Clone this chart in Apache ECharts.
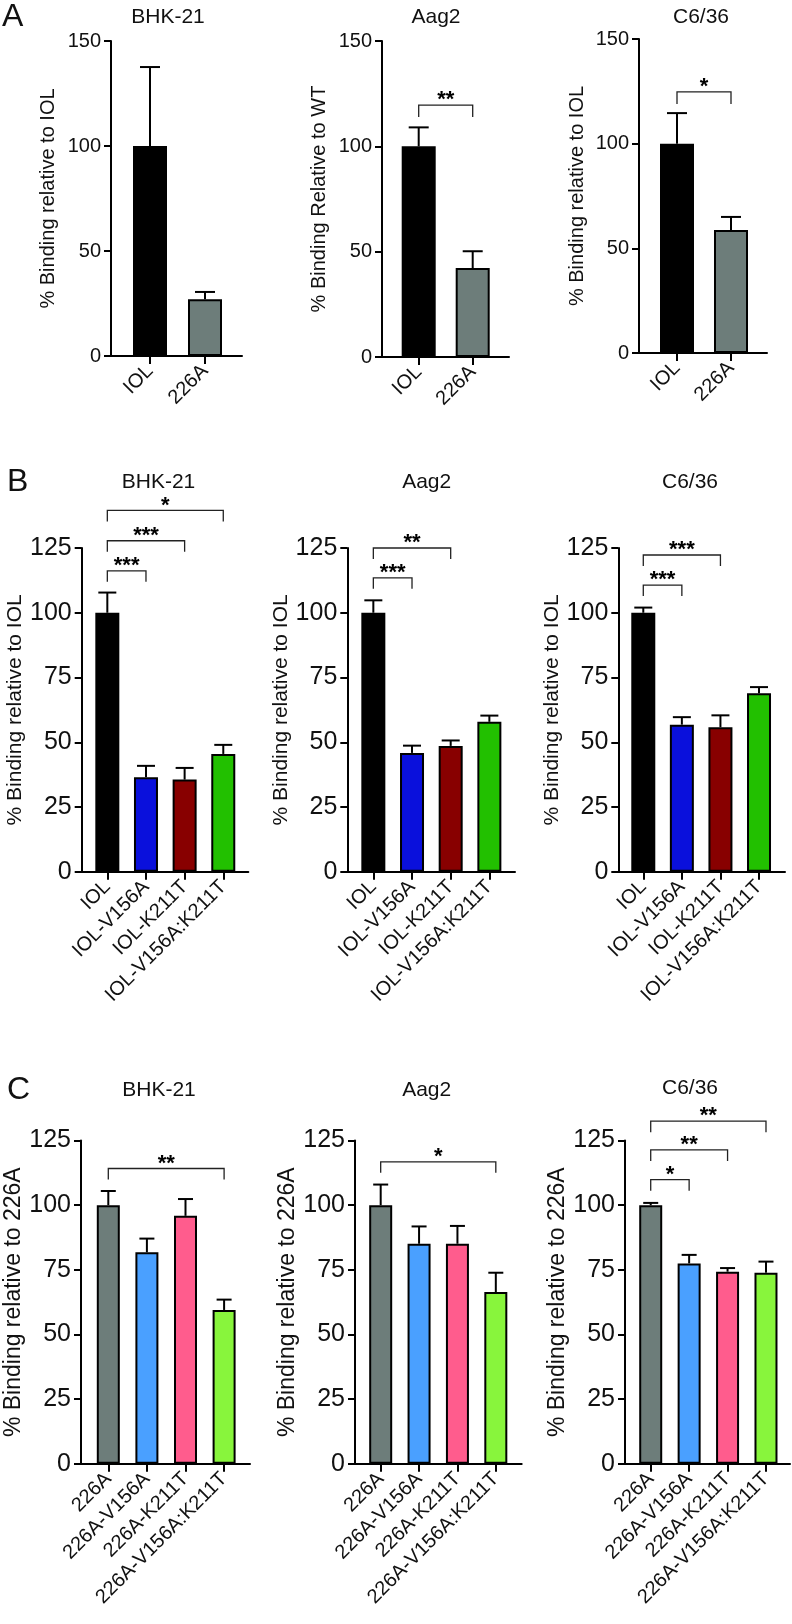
<!DOCTYPE html>
<html>
<head>
<meta charset="utf-8">
<title>Binding</title>
<script src="https://cdn.jsdelivr.net/npm/echarts@6/dist/echarts.min.js"></script>
<style>
html, body { margin: 0; padding: 0; background: #fff; }
#main { width: 792px; height: 1624px; }
</style>
</head>
<body>
<div id="main"></div>
<script>
// categories
var catsA = ['IOL', '226A'];
var catsB = ['IOL', 'IOL-V156A', 'IOL-K211T', 'IOL-V156A:K211T'];
var catsC = ['226A', '226A-V156A', '226A-K211T', '226A-V156A:K211T'];

// y ticks
var ticksA = [0, 50, 100, 150];
var ticksBC = [0, 25, 50, 75, 100, 125];

// mean and error (SEM) per cell line
var meanA_BHK = [100, 27];        var errA_BHK = [37.6, 3.5];
var meanA_Aag = [100, 42.2];      var errA_Aag = [9, 8];
var meanA_C6 = [100, 58.8];       var errA_C6 = [14.6, 6.2];

var meanB_BHK = [100, 36.5, 35.6, 45.5];  var errB_BHK = [7.8, 4.4, 4.5, 3.5];
var meanB_Aag = [100, 45.9, 48.6, 57.9];  var errB_Aag = [4.8, 2.8, 2.1, 2.4];
var meanB_C6 = [100, 56.8, 55.8, 68.9];   var errB_C6 = [2.0, 2.9, 4.6, 2.4];

var meanC_BHK = [100, 81.8, 95.9, 59.5];  var errC_BHK = [5.5, 5.3, 6.5, 4.0];
var meanC_Aag = [100, 85.1, 85.1, 66.4];  var errC_Aag = [8.0, 6.7, 6.9, 7.5];
var meanC_C6 = [100, 77.5, 74.3, 73.9];   var errC_C6 = [0.9, 3.3, 1.4, 4.3];

// significance brackets: [from, to, level, stars]
var sigA_BHK = [];
var sigA_Aag = [[0, 1, 119.6, '**']];
var sigA_C6 = [[0, 1, 124.7, '*']];
var sigB_BHK = [[0, 1, 116.2, '***'], [0, 2, 127.8, '***'], [0, 3, 139.5, '*']];
var sigB_Aag = [[0, 1, 113.5, '***'], [0, 2, 125, '**']];
var sigB_C6 = [[0, 1, 110.7, '***'], [0, 2, 122.3, '***']];
var sigC_BHK = [[0, 3, 114.2, '**']];
var sigC_Aag = [[0, 3, 116.8, '*']];
var sigC_C6 = [[0, 1, 109.9, '*'], [0, 2, 121.4, '**'], [0, 3, 132.5, '**']];

var colorsA = ['#000000', '#6d7d7a'];
var colorsB = ['#000000', '#0a10dc', '#880000', '#22c000'];
var colorsC = ['#6d7d7a', '#4aa0ff', '#ff5c8d', '#88f53c'];

var FONT = 'Liberation Sans, Arial, Helvetica, sans-serif';

// layout: frame = [left, top, right, bottom], inner = [left, right] for the bars
var panels = [
    { title: 'BHK-21', cats: catsA, mean: meanA_BHK, err: errA_BHK, sig: sigA_BHK, ticks: ticksA, colors: colorsA,
      yName: '% Binding relative to IOL', frame: [111, 41, 242, 356], inner: [122.5, 232.5], gap: 53, nameFs: 20,
      tpos: [168, 17.5], barW: 34, cap: 20, drop: 12, tick: 20 },
    { title: 'Aag2', cats: catsA, mean: meanA_Aag, err: errA_Aag, sig: sigA_Aag, ticks: ticksA, colors: colorsA,
      yName: '% Binding Relative to WT', frame: [382, 41, 509, 357], inner: [391.7, 499.7], gap: 53, nameFs: 20,
      tpos: [436, 17.5], barW: 34, cap: 20, drop: 12, tick: 20 },
    { title: 'C6/36', cats: catsA, mean: meanA_C6, err: errA_C6, sig: sigA_C6, ticks: ticksA, colors: colorsA,
      yName: '% Binding relative to IOL', frame: [639, 39, 767, 353], inner: [650, 758], gap: 52, nameFs: 20,
      tpos: [701, 17.5], barW: 34, cap: 20, drop: 12, tick: 20 },
    { title: 'BHK-21', cats: catsB, mean: meanB_BHK, err: errB_BHK, sig: sigB_BHK, ticks: ticksBC, colors: colorsB,
      yName: '% Binding relative to IOL', frame: [81.7, 548, 248.3, 871.8], inner: [88, 242.6], gap: 50, nameFs: 21,
      tpos: [158.5, 482.5], barW: 24, cap: 18, drop: 11, tick: 25 },
    { title: 'Aag2', cats: catsB, mean: meanB_Aag, err: errB_Aag, sig: sigB_Aag, ticks: ticksBC, colors: colorsB,
      yName: '% Binding relative to IOL', frame: [347.3, 548, 515, 871.8], inner: [354, 508.7], gap: 49, nameFs: 21,
      tpos: [426.7, 482.5], barW: 24, cap: 18, drop: 11, tick: 25 },
    { title: 'C6/36', cats: catsB, mean: meanB_C6, err: errB_C6, sig: sigB_C6, ticks: ticksBC, colors: colorsB,
      yName: '% Binding relative to IOL', frame: [618.3, 548, 785, 871.8], inner: [624, 778.3], gap: 48, nameFs: 21,
      tpos: [690, 482.5], barW: 24, cap: 18, drop: 11, tick: 25 },
    { title: 'BHK-21', cats: catsC, mean: meanC_BHK, err: errC_BHK, sig: sigC_BHK, ticks: ticksBC, colors: colorsC,
      yName: '% Binding relative to 226A', frame: [81, 1140.6, 250, 1463.8], inner: [89, 243.4], gap: 46, nameFs: 23,
      tpos: [159, 1090], barW: 23, cap: 15, drop: 11, tick: 25 },
    { title: 'Aag2', cats: catsC, mean: meanC_Aag, err: errC_Aag, sig: sigC_Aag, ticks: ticksBC, colors: colorsC,
      yName: '% Binding relative to 226A', frame: [355, 1140.6, 521.7, 1463.8], inner: [361.5, 515], gap: 50, nameFs: 23,
      tpos: [426.7, 1090], barW: 23, cap: 15, drop: 11, tick: 25 },
    { title: 'C6/36', cats: catsC, mean: meanC_C6, err: errC_C6, sig: sigC_C6, ticks: ticksBC, colors: colorsC,
      yName: '% Binding relative to 226A', frame: [625, 1140.6, 790, 1463.8], inner: [631.5, 785.2], gap: 50, nameFs: 23,
      tpos: [690, 1088], barW: 23, cap: 15, drop: 11, tick: 25 }
];

function errRender(capW) {
    return function (params, api) {
        var i = api.value(0);
        var base = api.coord([i, api.value(1)]);
        var top = api.coord([i, api.value(1) + api.value(2)]);
        var st = { stroke: '#000', lineWidth: 2 };
        return { type: 'group', children: [
            { type: 'line', shape: { x1: base[0], y1: base[1], x2: top[0], y2: top[1] }, style: st },
            { type: 'line', shape: { x1: top[0] - capW / 2, y1: top[1], x2: top[0] + capW / 2, y2: top[1] }, style: st }
        ] };
    };
}

function sigRender(sig, drop) {
    return function (params, api) {
        var s = sig[params.dataIndex];
        var a = api.coord([s[0], s[2]]);
        var b = api.coord([s[1], s[2]]);
        return { type: 'group', children: [
            { type: 'polyline',
              shape: { points: [[a[0], a[1] + drop], [a[0], a[1]], [b[0], b[1]], [b[0], b[1] + drop]] },
              style: { stroke: '#222', lineWidth: 1.3, fill: null } },
            { type: 'text',
              style: { text: s[3], x: (a[0] + b[0]) / 2, y: a[1] + 6,
                       align: 'center', verticalAlign: 'bottom', textAlign: 'center', textVerticalAlign: 'bottom',
                       font: 'bold 22px ' + FONT, fill: '#000' } }
        ] };
    };
}

var grids = [], xAxes = [], yAxes = [], series = [], graphics = [];

panels.forEach(function (p, k) {
    var f = p.frame;
    var max = p.ticks[p.ticks.length - 1];
    var step = p.ticks[1] - p.ticks[0];
    var g0 = 2 * k, g1 = 2 * k + 1;

    // frame grid: axis lines, y ticks and y name
    grids.push({ left: f[0], top: f[1], width: f[2] - f[0], height: f[3] - f[1] });
    // inner grid: bars, categories
    grids.push({ left: p.inner[0], top: f[1], width: p.inner[1] - p.inner[0], height: f[3] - f[1] });

    xAxes.push({ type: 'value', gridIndex: g0, min: 0, max: 1,
        axisLine: { show: true, lineStyle: { color: '#000', width: 2 } },
        axisTick: { show: false }, axisLabel: { show: false }, splitLine: { show: false } });
    yAxes.push({ type: 'value', gridIndex: g0, min: 0, max: max, interval: step,
        axisLine: { show: true, lineStyle: { color: '#000', width: 2 } },
        axisTick: { show: true, length: 7, lineStyle: { color: '#000', width: 2 } },
        axisLabel: { fontSize: p.tick, color: '#111', margin: 10, fontFamily: FONT },
        splitLine: { show: false },
        name: p.yName, nameLocation: 'middle', nameGap: p.gap,
        nameTextStyle: { fontSize: p.nameFs, color: '#111', fontFamily: FONT } });

    xAxes.push({ type: 'category', gridIndex: g1, data: p.cats,
        axisLine: { show: false },
        axisTick: { show: true, alignWithLabel: true, length: 8, lineStyle: { color: '#000', width: 2 } },
        axisLabel: { rotate: 45, fontSize: 20, color: '#111', margin: 12, fontFamily: FONT, interval: 0 } });
    yAxes.push({ type: 'value', gridIndex: g1, min: 0, max: max, interval: step, show: false });

    series.push({ type: 'bar', xAxisIndex: g1, yAxisIndex: g1, barWidth: p.barW, z: 2,
        data: p.mean.map(function (v, i) {
            return { value: v, itemStyle: { color: p.colors[i], borderColor: '#000', borderWidth: 2 } };
        }) });
    series.push({ type: 'custom', xAxisIndex: g1, yAxisIndex: g1, z: 3, clip: false,
        renderItem: errRender(p.cap),
        encode: { x: 0, y: 1 },
        data: p.mean.map(function (v, i) { return [i, v, p.err[i]]; }) });
    if (p.sig.length) {
        series.push({ type: 'custom', xAxisIndex: g1, yAxisIndex: g1, z: 4, clip: false,
            renderItem: sigRender(p.sig, p.drop),
            encode: { x: 0, y: 1 },
            data: p.sig.map(function (s) { return [s[0], s[2]]; }) });
    }

    graphics.push({ type: 'text', x: p.tpos[0], y: p.tpos[1],
        style: { text: p.title, font: '21px ' + FONT, fill: '#111',
                 align: 'center', verticalAlign: 'middle', textAlign: 'center', textVerticalAlign: 'middle' } });
});

// panel letters
[['A', 2, 17.5], ['B', 7, 482.5], ['C', 7, 1090]].forEach(function (l) {
    graphics.push({ type: 'text', x: l[1], y: l[2],
        style: { text: l[0], font: '32px ' + FONT, fill: '#111',
                 align: 'left', verticalAlign: 'middle', textAlign: 'left', textVerticalAlign: 'middle' } });
});

var myChart = echarts.init(document.getElementById('main'));
myChart.setOption({
    animation: false,
    backgroundColor: '#fff',
    grid: grids,
    xAxis: xAxes,
    yAxis: yAxes,
    series: series,
    graphic: graphics
});
</script>
</body>
</html>
